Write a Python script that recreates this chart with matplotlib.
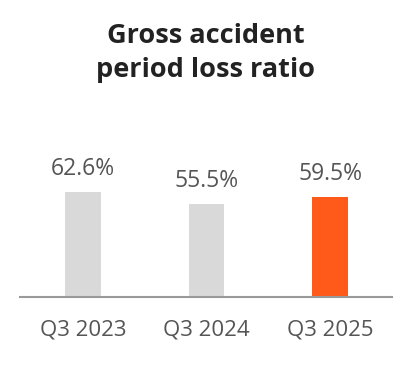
import matplotlib.pyplot as plt

# chart data
periods = ['Q3 2023', 'Q3 2024', 'Q3 2025']
loss_ratio = [62.6, 55.5, 59.5]
bar_colors = ['#d9d9d9', '#d9d9d9', '#ff5a1a']

plt.rcParams['font.family'] = ['Open Sans', 'DejaVu Sans']

fig = plt.figure(figsize=(4.12, 3.84), dpi=100)
ax = fig.add_axes([0.0485, 0.227, 0.9025, 0.513])

x = range(len(periods))
bars = ax.bar(x, loss_ratio, width=0.29, color=bar_colors)

# value labels above the bars
for b, v in zip(bars, loss_ratio):
    ax.annotate(f'{v:.1f}%', (b.get_x() + b.get_width() / 2, v),
                xytext=(0, 16.5), textcoords='offset points',
                ha='center', va='center', fontsize=16.5, color='#555555')

ax.set_xlim(-0.51, 2.5)
ax.set_ylim(0, 117.6)
ax.set_xticks(list(x))
ax.set_xticklabels(periods, fontsize=16, color='#555555')
ax.tick_params(axis='x', length=0, pad=16)
ax.set_yticks([])

for s in ['top', 'right', 'left']:
    ax.spines[s].set_visible(False)
ax.spines['bottom'].set_color('#999999')
ax.spines['bottom'].set_linewidth(1.5)

fig.text(0.5, 0.862, 'Gross accident\nperiod loss ratio', ha='center', va='center',
         fontsize=19.5, fontweight='bold', color='#222222', linespacing=1.4)

fig.savefig('out.png', dpi=100)
